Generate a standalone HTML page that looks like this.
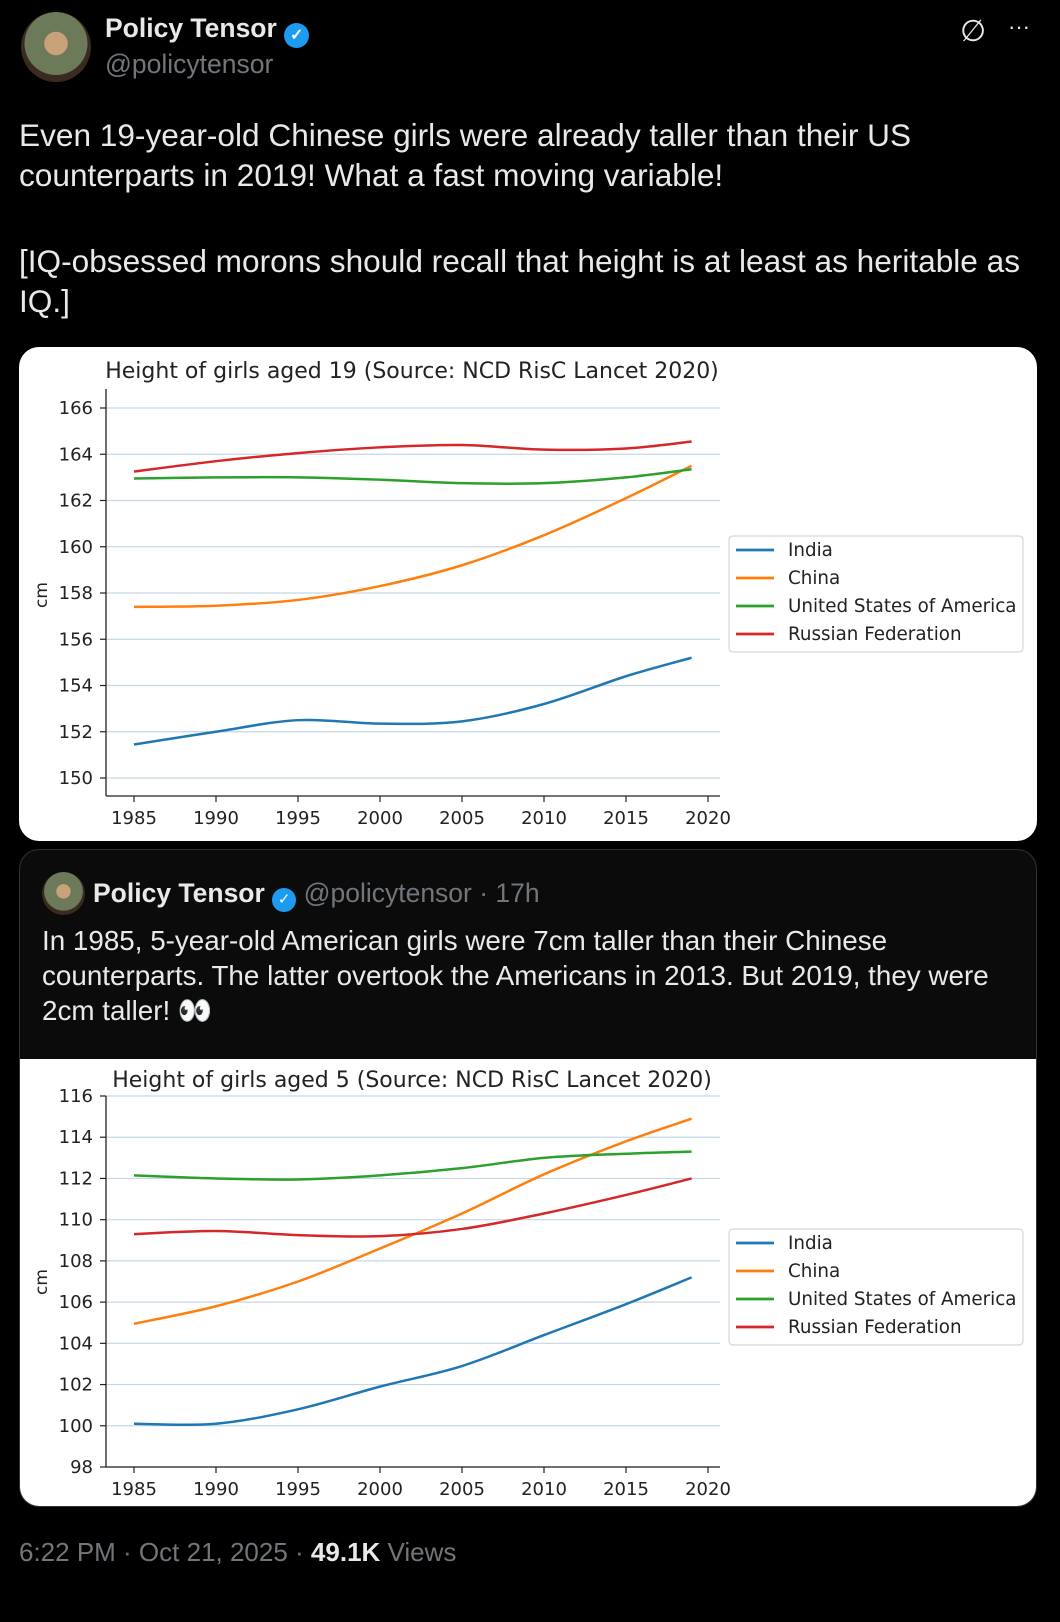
<!DOCTYPE html>
<html><head><meta charset="utf-8">
<style>
html,body{margin:0;padding:0;background:#000;}
body{width:1060px;height:1622px;position:relative;overflow:hidden;font-family:"Liberation Sans",sans-serif;color:#e7e9ea;}
.abs{position:absolute;white-space:nowrap;}
.card{position:absolute;background:#fff;}
svg text{font-family:"DejaVu Sans",sans-serif;}
</style></head>
<body>
<div class="abs" style="left:21px;top:12px;width:70px;height:70px;border-radius:50%;background:radial-gradient(circle at 50% 45%,#c9a27a 0 22%,#6d7a5a 23% 60%,#3a2a20 61%);"></div>
<div class="abs" style="left:105px;top:13px;font-size:26.5px;font-weight:bold;color:#e7e9ea;">Policy Tensor <span style="display:inline-block;width:25px;height:25px;border-radius:50%;background:#1d9bf0;color:#fff;font-size:16px;text-align:center;line-height:25px;vertical-align:-3px;">✓</span></div>
<div class="abs" style="left:105px;top:49px;font-size:26.5px;color:#71767b;">@policytensor</div>
<div class="abs" style="left:960px;top:14px;font-size:30px;color:#e7e9ea;">∅</div>
<div class="abs" style="left:1008px;top:14px;font-size:22px;color:#e7e9ea;">···</div>

<div class="abs" style="left:19px;top:115px;font-size:31.6px;line-height:40px;">Even 19-year-old Chinese girls were already taller than their US<br>counterparts in 2019! What a fast moving variable!<br><div style="height:46px"></div>[IQ-obsessed morons should recall that height is at least as heritable as<br>IQ.]</div>

<div class="card" style="left:19px;top:347px;width:1018px;height:494px;border-radius:20px;"></div>

<div class="abs" style="left:19px;top:849px;width:1016px;height:656px;border:1px solid #2f3336;border-radius:20px;background:#0b0b0b;overflow:hidden;">
  <div class="abs" style="left:22px;top:22px;width:43px;height:43px;border-radius:50%;background:radial-gradient(circle at 50% 45%,#c9a27a 0 22%,#6d7a5a 23% 60%,#3a2a20 61%);"></div>
  <div class="abs" style="left:73px;top:28px;font-size:26.5px;"><b>Policy Tensor</b> <span style="display:inline-block;width:24px;height:24px;border-radius:50%;background:#1d9bf0;color:#fff;font-size:15px;text-align:center;line-height:24px;vertical-align:-2px;">✓</span> <span style="color:#71767b;">@policytensor · 17h</span></div>
  <div class="abs" style="left:22px;top:73px;font-size:27.8px;line-height:35px;">In 1985, 5-year-old American girls were 7cm taller than their Chinese<br>counterparts. The latter overtook the Americans in 2013. But 2019, they were<br>2cm taller! 👀</div>
  <div class="abs" style="left:0;top:209px;width:1018px;height:448px;background:#fff;"></div>
</div>

<div class="abs" style="left:19px;top:1537px;font-size:26px;color:#71767b;">6:22 PM · Oct 21, 2025 · <b style="color:#e7e9ea;">49.1K</b> Views</div>

<svg id="chart" width="1060" height="1622" style="position:absolute;left:0;top:0;"></svg>

<script>
const years = [1985,1990,1995,2000,2005,2010,2015,2019];
const seriesNames = ["India","China","United States of America","Russian Federation"];
const colors = ["#1f77b4","#ff7f0e","#2ca02c","#d62728"];
const xTicks = [1985,1990,1995,2000,2005,2010,2015,2020];
// chart 1: age 19
const c1India = [151.45,152.0,152.5,152.35,152.45,153.2,154.4,155.2];
const c1China = [157.4,157.45,157.7,158.3,159.2,160.5,162.1,163.5];
const c1USA = [162.95,163.0,163.0,162.9,162.75,162.75,163.0,163.35];
const c1Russia = [163.25,163.7,164.05,164.3,164.4,164.2,164.25,164.55];
const c1Ticks = [150,152,154,156,158,160,162,164,166];
// chart 2: age 5
const c2India = [100.1,100.1,100.8,101.9,102.9,104.4,105.9,107.2];
const c2China = [104.95,105.8,107.0,108.6,110.3,112.2,113.8,114.9];
const c2USA = [112.15,112.0,111.95,112.15,112.5,113.0,113.2,113.3];
const c2Russia = [109.3,109.45,109.25,109.2,109.55,110.3,111.2,112.0];
const c2Ticks = [98,100,102,104,106,108,110,112,114,116];

const NS = "http://www.w3.org/2000/svg";
const svg = document.getElementById('chart');
function mk(tag, attrs, parent){const e=document.createElementNS(NS,tag);for(const k in attrs)e.setAttribute(k,attrs[k]);(parent||svg).appendChild(e);return e;}

function smooth(pts){
  let d = "M"+pts[0][0]+","+pts[0][1];
  for(let i=0;i<pts.length-1;i++){
    const p0=pts[Math.max(i-1,0)],p1=pts[i],p2=pts[i+1],p3=pts[Math.min(i+2,pts.length-1)];
    const c1x=p1[0]+(p2[0]-p0[0])/6,c1y=p1[1]+(p2[1]-p0[1])/6;
    const c2x=p2[0]-(p3[0]-p1[0])/6,c2y=p2[1]-(p3[1]-p1[1])/6;
    d+=" C"+c1x+","+c1y+" "+c2x+","+c2y+" "+p2[0]+","+p2[1];
  }
  return d;
}

function drawChart(o){
  const g = mk('g',{});
  
  
  const xS = v => 134 + (v-1985)*(708-134)/35;
  const yS = v => o.y0 + (v-o.v0)*(o.y1-o.y0)/(o.v1-o.v0);
  const t = mk('text',{x:412,y:o.titleY,'font-size':22,'text-anchor':'middle',fill:'#222'},g);
  t.textContent = o.title;
  
  
  o.ticks.forEach(v=>{
    const gl = mk('line',{x1:106,x2:720,y1:yS(v),y2:yS(v),stroke:'#c5d6e6','stroke-width':1.2},g);
    
    
    mk('line',{x1:100,x2:106,y1:yS(v),y2:yS(v),stroke:'#222','stroke-width':1.2},g);
    const tl = mk('text',{x:93,y:yS(v)+6,'font-size':18,'text-anchor':'end',fill:'#222'},g);
    tl.textContent = v;
    
    
  });
  xTicks.forEach(v=>{
    mk('line',{x1:xS(v),x2:xS(v),y1:o.axisY,y2:o.axisY+6,stroke:'#222','stroke-width':1.2},g);
    const tl = mk('text',{x:xS(v),y:o.axisY+28,'font-size':18,'text-anchor':'middle',fill:'#222'},g);
    tl.textContent = v;
    
    
  });
  mk('line',{x1:106,x2:106,y1:o.axisTop,y2:o.axisY,stroke:'#222','stroke-width':1.3},g);
  mk('line',{x1:106,x2:720,y1:o.axisY,y2:o.axisY,stroke:'#222','stroke-width':1.3},g);
  const yl = mk('text',{x:0,y:0,'font-size':17,'text-anchor':'middle',fill:'#222',transform:'translate(47,'+o.cmY+') rotate(-90)'},g);
  yl.textContent = 'cm';
  
  
  o.series.forEach((s,i)=>{
    const p = mk('path',{d:smooth(years.map((yr,j)=>[xS(yr),yS(s[j])])),fill:'none',stroke:colors[i],'stroke-width':2.5},g);
    
    
  });
  const lg = mk('rect',{x:729,y:o.legY,width:294,height:116,rx:4,fill:'#fff',stroke:'#d6d6d6','stroke-width':1.2},g);
  
  
  seriesNames.forEach((n,i)=>{
    const cy = o.legY+14+i*28;
    const ln = mk('line',{x1:736,x2:774,y1:cy,y2:cy,stroke:colors[i],'stroke-width':2.8},g);
    
    
    const lt = mk('text',{x:788,y:cy+6,'font-size':18.3,fill:'#222'},g);
    lt.textContent = n;
    
    
  });
}

drawChart({name:'chart-age-19',title:'Height of girls aged 19 (Source: NCD RisC Lancet 2020)',titleY:378,
  v0:150,v1:166,y0:778,y1:408,axisY:796,axisTop:389,cmY:595,legY:536,ticks:c1Ticks,
  series:[c1India,c1China,c1USA,c1Russia]});
drawChart({name:'chart-age-5',title:'Height of girls aged 5 (Source: NCD RisC Lancet 2020)',titleY:1087,
  v0:98,v1:116,y0:1467,y1:1096,axisY:1467,axisTop:1096,cmY:1282,legY:1229,ticks:c2Ticks,
  series:[c2India,c2China,c2USA,c2Russia]});
</script>
</body></html>
